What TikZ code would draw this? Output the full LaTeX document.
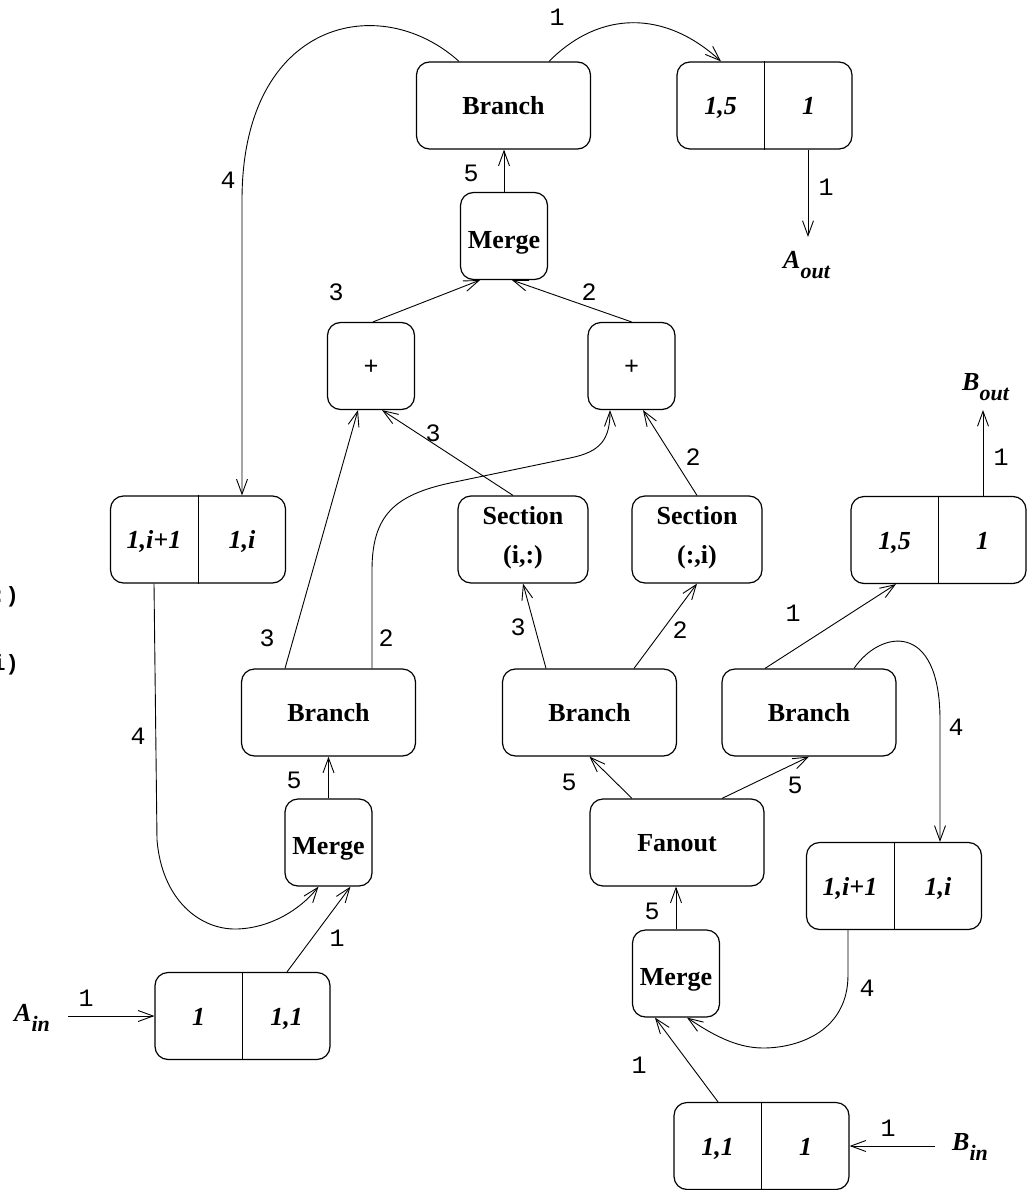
\documentclass[tikz,border=0pt]{standalone}
\usepackage{fontspec}
\setmainfont{Liberation Serif}
\setmonofont{Liberation Mono}
\usetikzlibrary{arrows.meta}

\tikzset{
  op/.style={draw, line width=1.2pt, rounded corners=13pt, minimum width=174pt,
    minimum height=87pt, inner sep=0pt, text height=18pt, text depth=0pt,
    font=\fontsize{26}{30}\selectfont\bfseries},
  sq/.style={op, minimum width=87pt, text height=24pt},
  plus/.style={sq, text height=16pt, font=\fontsize{25}{28}\selectfont\ttfamily},
  sec/.style={draw, line width=1.2pt, rounded corners=13pt, minimum width=130pt,
    minimum height=87pt, inner sep=0pt, align=center, text depth=10pt,
    font=\fontsize{26}{39}\selectfont\bfseries},
  reg/.style={draw, line width=1.2pt, rounded corners=13pt, minimum width=175pt,
    minimum height=87pt, inner sep=0pt},
  val/.style={inner sep=0pt, text height=18pt, text depth=0pt,
    font=\fontsize{26}{30}\selectfont\bfseries\itshape},
  lbl/.style={inner sep=0pt, font=\fontsize{25}{28}\selectfont\ttfamily},
  io/.style={inner sep=0pt, anchor=base west, font=\fontsize{26}{30}\selectfont\bfseries\itshape},
  cut/.style={inner sep=0pt, anchor=base east, font=\fontsize{22}{24}\selectfont\ttfamily\bfseries},
  link/.style={line width=0.9pt, -{Straight Barb[length=15pt,width=11pt]}}
}

% register: name, x, y, left value, right value
\newcommand{\regbox}[5]{%
  \node[reg] (#1) at (#2,#3) {};
  \draw[line width=0.9pt] (#1.north) -- (#1.south);
  \node[val] (#1l) at ([xshift=-44pt]#1.center) {#4};
  \node[val] (#1r) at ([xshift=44pt]#1.center) {#5};
}
\newcommand{\iosub}[1]{\lower10pt\hbox{\fontsize{22}{24}\selectfont #1}}

\begin{document}
\begin{tikzpicture}[x=1pt, y=1pt]
    \useasboundingbox (0,0) rectangle (1029,-1190);

    % cut-off text at the left edge
    \node[cut] (cutA) at (19,-602) {(i,:)};
    \node[cut] (cutB) at (19,-670) {(:,i)};

    % operators
    \node[op] (brT) at (503.5,-105.5) {Branch};
    \node[sq] (mgT) at (504,-236) {Merge};
    \node[plus] (plL) at (371,-366) {+};
    \node[plus] (plR) at (631.5,-366) {+};
    \node[sec] (secR) at (523,-539.5) {Section\\(i,:)};
    \node[sec] (secC) at (697,-539.5) {Section\\(:,i)};
    \node[op] (brL) at (328.5,-712.5) {Branch};
    \node[op] (brM) at (589.5,-712.5) {Branch};
    \node[op] (brR) at (809,-712.5) {Branch};
    \node[sq] (mgL) at (328.5,-842.5) {Merge};
    \node[op] (fan) at (677,-842.5) {Fanout};
    \node[sq] (mgR) at (676,-973.5) {Merge};

    % registers
    \regbox{rgAout}{764.5}{-105.5}{1,5}{1}
    \regbox{rgL}{198}{-539.5}{1,i+1}{1,i}
    \regbox{rgBout}{938.5}{-540}{1,5}{1}
    \regbox{rgR}{894}{-886}{1,i+1}{1,i}
    \regbox{rgAin}{242.5}{-1016}{1}{1,1}
    \regbox{rgBin}{761.5}{-1146}{1,1}{1}

    % inputs and outputs
    \node[io] (aout) at (783,-268) {A\iosub{out}};
    \node[io] (bout) at (962,-390) {B\iosub{out}};
    \node[io] (ain) at (14,-1021) {A\iosub{in}};
    \node[io] (bin) at (952,-1150) {B\iosub{in}};
    \coordinate (aoutTip) at (808,-237);
    \coordinate (boutTip) at (983,-410);
    \coordinate (ainTail) at (68,-1016);
    \coordinate (binTail) at (935,-1146);

    % top branch
    \draw[link] ([xshift=45.5pt]brT.north) .. controls (600,-10) and (665,-10) .. ([xshift=-43.5pt]rgAout.north);
    \node[lbl] (c1) at (557,-17) {1};
    \draw[link] ([xshift=-44.5pt]brT.north) .. controls (380,10) and (242,-20) .. (242,-200) -- ([xshift=44pt]rgL.north);
    \node[lbl] (c2) at (228,-180) {4};
    \draw[link] (mgT.north) -- (mgT.north |- brT.south);
    \node[lbl] (c3) at (471,-173) {5};
    \draw[link] ([xshift=43.5pt]rgAout.south) -- (aoutTip);
    \node[lbl] (c4) at (826,-187) {1};

    % sums into the top merge
    \draw[link] ([xshift=2pt]plL.north) -- ([xshift=-24pt]mgT.south);
    \node[lbl] (c5) at (336,-292) {3};
    \draw[link] (plR.north) -- ([xshift=8pt]mgT.south);
    \node[lbl] (c6) at (589,-292) {2};
    \draw[link] ([xshift=-10pt]secR.north) -- ([xshift=11pt]plL.south);
    \node[lbl] (c7) at (433,-433) {3};
    \draw[link] (secC.north) -- ([xshift=11.5pt]plR.south);
    \node[lbl] (c8) at (693,-457) {2};

    % left branch
    \draw[link] ([xshift=-43.5pt]brL.north) -- ([xshift=-13pt]plL.south);
    \node[lbl] (c9) at (267,-638) {3};
    \draw[link] ([xshift=43.5pt]brL.north) -- (372,-570) .. controls (372,-515) and (395,-495) .. (450,-483)
        -- (570,-458) .. controls (600,-452) and (610,-440) .. ([xshift=-21.5pt]plR.south);
    \node[lbl] (c10) at (386,-638) {2};
    \draw[link] (mgL.north) -- (brL.south);
    \node[lbl] (c11) at (294,-780) {5};
    \draw[link] ([xshift=-44pt]rgL.south) -- (157,-840) .. controls (162,-900) and (200,-930) .. (237,-929)
        .. controls (270,-928) and (300,-910) .. ([xshift=-10pt]mgL.south);
    \node[lbl] (c12) at (138,-736) {4};
    \draw[link] ([xshift=44.5pt]rgAin.north) -- ([xshift=22pt]mgL.south);
    \node[lbl] (c13) at (337,-938) {1};
    \draw[link] (ainTail) -- (rgAin.west);
    \node[lbl] (c14) at (86,-998) {1};

    % middle and right branches
    \draw[link] ([xshift=-43.5pt]brM.north) -- (secR.south);
    \node[lbl] (c15) at (518,-627) {3};
    \draw[link] ([xshift=44.5pt]brM.north) -- (secC.south);
    \node[lbl] (c16) at (680,-630) {2};
    \draw[link] ([xshift=-44pt]brR.north) -- ([xshift=-42.5pt]rgBout.south);
    \node[lbl] (c17) at (793,-613) {1};
    \draw[link] ([xshift=45pt]brR.north) .. controls (880,-630) and (940,-620) .. (940,-720) -- ([xshift=46pt]rgR.north);
    \node[lbl] (c18) at (956,-727) {4};
    \draw[link] ([xshift=44.5pt]rgBout.north) -- (boutTip);
    \node[lbl] (c19) at (1001,-457) {1};

    % fanout
    \draw[link] ([xshift=-45pt]fan.north) -- (brM.south);
    \node[lbl] (c20) at (569,-782) {5};
    \draw[link] ([xshift=45pt]fan.north) -- (brR.south);
    \node[lbl] (c21) at (795,-785) {5};
    \draw[link] (mgR.north) -- (mgR.north |- fan.south);
    \node[lbl] (c22) at (652,-911) {5};
    \draw[link] ([xshift=-46pt]rgR.south) -- (848,-975) .. controls (848,-1030) and (800,-1048) .. (763,-1048)
        .. controls (735,-1048) and (710,-1033) .. ([xshift=11pt]mgR.south);
    \node[lbl] (c23) at (867,-988) {4};
    \draw[link] ([xshift=-43.5pt]rgBin.north) -- ([xshift=-21pt]mgR.south);
    \node[lbl] (c24) at (639,-1065) {1};
    \draw[link] (binTail) -- (rgBin.east);
    \node[lbl] (c25) at (888,-1128) {1};
\end{tikzpicture}
\end{document}
